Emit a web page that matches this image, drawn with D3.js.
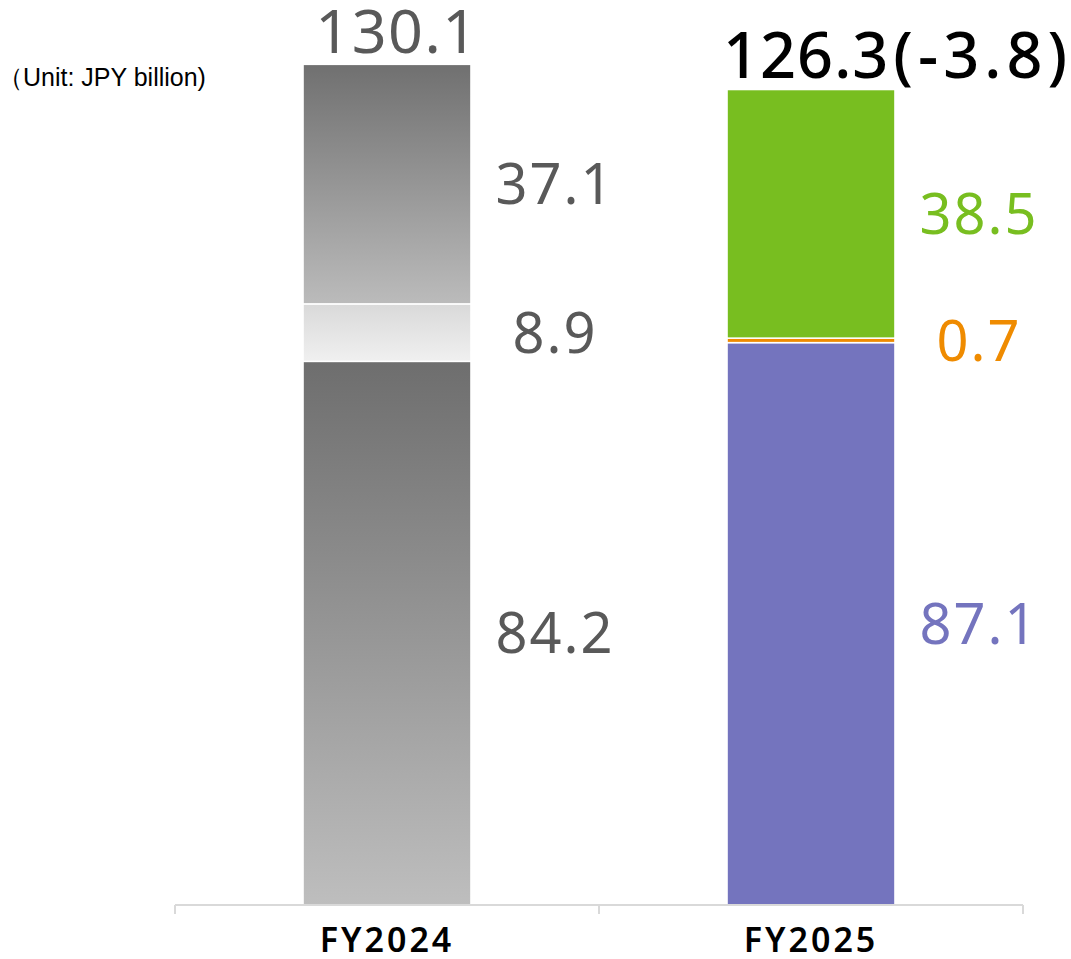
<!DOCTYPE html>
<html>
<head>
<meta charset="utf-8">
<script src="https://cdn.jsdelivr.net/npm/d3@7"></script>
<style>
  body { margin: 0; background: #fff; }
  svg { display: block; }
</style>
</head>
<body>
<svg id="chart"></svg>
<script>
// values in JPY billion, bottom segment first
var years = ["FY2024", "FY2025"];
var bottomSeg = [84.2, 87.1];
var middleSeg = [8.9, 0.7];
var topSeg = [37.1, 38.5];
var totals = ["130.1", "126.3"];
var diffText = ["", "(-3.8)"];

var width = 1071,
    height = 959,
    margin = {top: 65, bottom: 54, left: 175, right: 48};

var svg = d3.select("#chart")
    .attr("width", width)
    .attr("height", height);

var baseY = height - margin.bottom;

var xScale = d3.scaleBand()
    .domain(years)
    .range([margin.left, width - margin.right])
    .paddingInner(0.604)
    .paddingOuter(0.302);

var yScale = d3.scaleLinear()
    .domain([0, 130.1])
    .range([baseY, margin.top]);

// gradients for the grey FY2024 bar
var defs = svg.append("defs");
function grad(id, c1, c2) {
    var g = defs.append("linearGradient")
        .attr("id", id)
        .attr("x1", 0).attr("x2", 0)
        .attr("y1", 0).attr("y2", 1);
    g.append("stop").attr("offset", "0%").attr("stop-color", c1);
    g.append("stop").attr("offset", "100%").attr("stop-color", c2);
}
grad("gDark", "#6e6e6e", "#bebebe");
grad("gTop", "#707070", "#bbbbbb");
grad("gMid", "#d9d9d9", "#f0f0f0");

var fills = [
    ["url(#gDark)", "url(#gMid)", "url(#gTop)"],
    ["#7474be", "#ef8b00", "#78be20"]
];
var labelColors = [
    ["#595959", "#595959", "#595959"],
    ["#7474be", "#ef8b00", "#78be20"]
];

var rows = years.map(function(y, i) {
    var vals = [bottomSeg[i], middleSeg[i], topSeg[i]];
    var acc = 0;
    return vals.map(function(v, k) {
        var d = {year: y, i: i, k: k, v: v, y0: acc, y1: acc + v};
        acc += v;
        return d;
    });
});
var segs = d3.merge(rows);

var barG = svg.append("g");

barG.selectAll("rect")
    .data(segs)
    .enter()
    .append("rect")
    .attr("x", function(d) { return xScale(d.year); })
    .attr("width", xScale.bandwidth())
    .attr("y", function(d) { return yScale(d.y1); })
    .attr("height", function(d) { return yScale(d.y0) - yScale(d.y1); })
    .style("fill", function(d) { return fills[d.i][d.k]; })
    .style("stroke", "#fff")
    .style("stroke-width", "1.5px");

// segment value labels
svg.append("g").selectAll("text")
    .data(segs)
    .enter()
    .append("text")
    .attr("x", function(d) { return xScale(d.year) + xScale.bandwidth() + 84; })
    .attr("y", function(d) { return yScale((d.y0 + d.y1) / 2); })
    .attr("dy", "0.36em")
    .attr("text-anchor", "middle")
    .style("font-family", "'Noto Sans', sans-serif")
    .style("font-size", "56px")
    .style("letter-spacing", "2px")
    .style("fill", function(d) { return labelColors[d.i][d.k]; })
    .text(function(d) { return d.v.toFixed(1); });

// totals above bars
var totG = svg.append("g");
years.forEach(function(y, i) {
    var top = yScale(+totals[i]);
    var t = totG.append("text")
        .attr("y", top - 12)
        .style("font-family", "'Noto Sans', sans-serif")
        .style("font-size", i == 0 ? "61px" : "63px")
        .style("letter-spacing", "1px")
        .style("fill", i == 0 ? "#595959" : "#000");
    if (i == 0) {
        t.attr("x", xScale(y) + xScale.bandwidth() / 2 + 10)
            .attr("text-anchor", "middle")
            .style("letter-spacing", "1.5px")
            .text(totals[i]);
    } else {
        t.attr("x", xScale(y) - 4)
            .attr("text-anchor", "start")
            .style("font-weight", "500");
        t.append("tspan").text(totals[i]);
        t.append("tspan")
            .attr("dx", 4)
            .style("letter-spacing", "5px")
            .text(diffText[i]);
    }
});

// axis
var axisG = svg.append("g")
    .attr("transform", "translate(0," + baseY + ")");
axisG.append("line")
    .attr("x1", margin.left).attr("x2", width - margin.right)
    .style("stroke", "#d9d9d9")
    .style("stroke-width", "2px");
var tickX = [margin.left].concat(years.map(function(y) {
    return xScale(y) + xScale.bandwidth() / 2 + xScale.step() / 2;
}));
axisG.selectAll(".tick")
    .data(tickX)
    .enter()
    .append("line")
    .attr("x1", function(d) { return d; })
    .attr("x2", function(d) { return d; })
    .attr("y1", 0).attr("y2", 9)
    .style("stroke", "#d9d9d9")
    .style("stroke-width", "2px");
axisG.selectAll(".lbl")
    .data(years)
    .enter()
    .append("text")
    .attr("x", function(d) { return xScale(d) + xScale.bandwidth() / 2; })
    .attr("y", 47)
    .attr("text-anchor", "middle")
    .style("font-family", "'Noto Sans', sans-serif")
    .style("font-size", "34px")
    .style("font-weight", "600")
    .style("letter-spacing", "3px")
    .style("fill", "#000")
    .text(function(d) { return d; });

svg.append("text")
    .attr("x", -2)
    .attr("y", 86)
    .style("font-family", "'Liberation Sans', Arial, sans-serif")
    .style("font-size", "25px")
    .style("fill", "#000")
    .text("（Unit: JPY billion)");
</script>
</body>
</html>
